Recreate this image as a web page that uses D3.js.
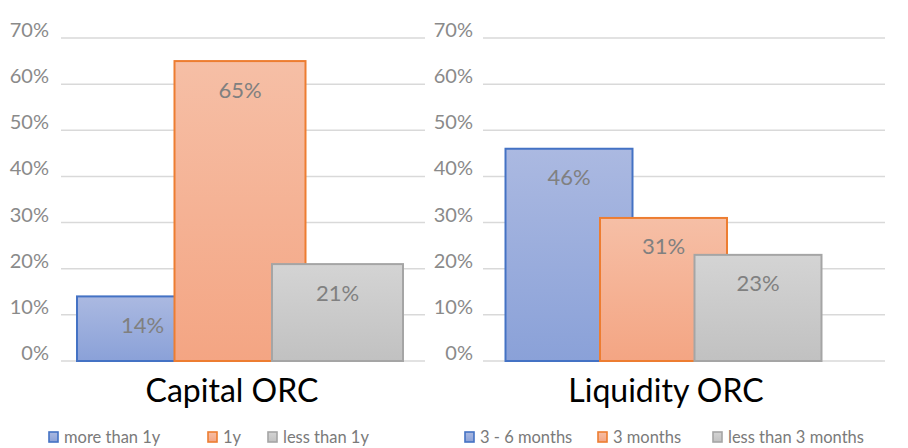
<!DOCTYPE html>
<html><head><meta charset="utf-8">
<script src="https://cdn.jsdelivr.net/npm/d3@7"></script>
<style>body{margin:0;background:#fff}svg{display:block}</style>
</head><body>
<svg id="c" width="908" height="448"></svg>
<script>
const yTicks = [0, 10, 20, 30, 40, 50, 60, 70];
const capitalTitle = "Capital ORC";
const capitalSeries = ["more than 1y", "1y", "less than 1y"];
const capitalValues = [14, 65, 21];
const liquidityTitle = "Liquidity ORC";
const liquiditySeries = ["3 - 6 months", "3 months", "less than 3 months"];
const liquidityValues = [46, 31, 23];

const FONT = "Lato, 'Open Sans', sans-serif";
const palette = [
  {top:"#abb9e1", bot:"#8aa1d8", stroke:"#4472c4"},
  {top:"#f6bfa6", bot:"#f4a583", stroke:"#ed7d31"},
  {top:"#d4d4d4", bot:"#c1c1c1", stroke:"#a5a5a5"}
];

const svg = d3.select("#c");
const defs = svg.append("defs");
palette.forEach((p,i)=>{
  const g = defs.append("linearGradient").attr("id","g"+i).attr("x1",0).attr("y1",0).attr("x2",0).attr("y2",1);
  g.append("stop").attr("offset","0%").attr("stop-color",p.top);
  g.append("stop").attr("offset","100%").attr("stop-color",p.bot);
});

const y = d3.scaleLinear().domain([0,70]).range([361, 38]);

function panel(cfg){
  const g = svg.append("g");
  g.selectAll("line.grid").data(yTicks).join("line")
    .attr("x1",cfg.grid[0]).attr("x2",cfg.grid[1])
    .attr("y1",d=>y(d)).attr("y2",d=>y(d))
    .attr("stroke","#d9d9d9").attr("stroke-width",1.5);
  g.selectAll("text.tick").data(yTicks).join("text")
    .attr("x",cfg.labelX).attr("y",d=>y(d)-9)
    .attr("text-anchor","end").attr("dominant-baseline","central")
    .attr("font-family",FONT).attr("font-size",20).attr("fill","#8a8a8a")
    .text(d=>d+"%");
  const x = d3.scalePoint().domain(cfg.series).range(cfg.centers);
  const bw = cfg.bw;
  g.selectAll("rect.bar").data(cfg.values).join("rect")
    .attr("x",(d,i)=>x(cfg.series[i])-bw/2)
    .attr("y",d=>y(d))
    .attr("width",bw).attr("height",d=>y(0)-y(d))
    .attr("fill",(d,i)=>`url(#g${i})`)
    .attr("stroke",(d,i)=>palette[i].stroke).attr("stroke-width",2);
  g.selectAll("text.val").data(cfg.values).join("text")
    .attr("x",(d,i)=>x(cfg.series[i]))
    .attr("y",d=>y(d)+28)
    .attr("text-anchor","middle").attr("dominant-baseline","central")
    .attr("font-family",FONT).attr("font-size",22).attr("fill","#808080")
    .text(d=>d+"%");
  g.append("text").attr("x",cfg.titleX).attr("y",389)
    .attr("text-anchor","middle").attr("dominant-baseline","central")
    .attr("font-family",FONT).attr("font-size",32).attr("fill","#000")
    .text(cfg.title);
  const lg = g.selectAll("g.leg").data(cfg.series).join("g")
    .attr("transform",(d,i)=>`translate(${cfg.legX[i]},437)`);
  lg.append("rect").attr("x",0).attr("y",-5).attr("width",9).attr("height",10)
    .attr("fill",(d,i)=>`url(#g${i})`).attr("stroke",(d,i)=>palette[i].stroke).attr("stroke-width",1.6);
  lg.append("text").attr("x",15).attr("y",0).attr("dominant-baseline","central")
    .attr("font-family",FONT).attr("font-size",16.5).attr("fill","#7a7a7a")
    .text(d=>d);
}

panel({grid:[61,425], labelX:49, centers:[142.5,337.5], bw:131,
  series:capitalSeries, values:capitalValues, title:capitalTitle, titleX:232,
  legX:[49,208,268]});
panel({grid:[483,885], labelX:473, centers:[569,758], bw:127,
  series:liquiditySeries, values:liquidityValues, title:liquidityTitle, titleX:666,
  legX:[465,598,713]});
</script>
</body></html>
